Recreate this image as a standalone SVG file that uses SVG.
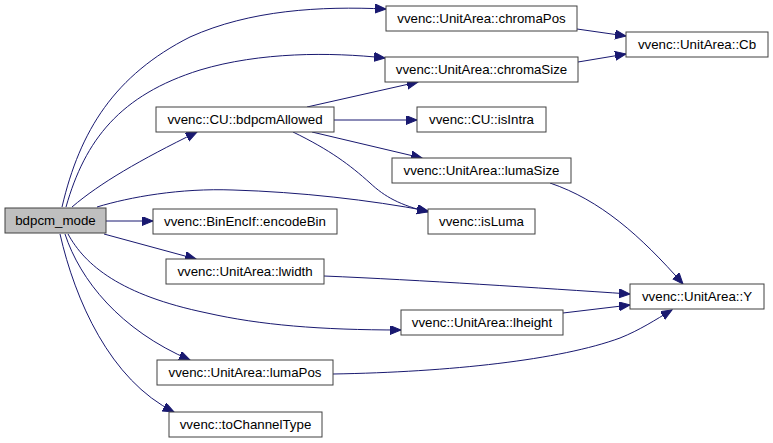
<svg xmlns="http://www.w3.org/2000/svg" width="773" height="443" viewBox="0 0 773 443">
<style>
.n rect{fill:#ffffff;stroke:#404040;stroke-width:1}
.n text{font-family:"Liberation Sans",Arial,sans-serif;font-size:13.3px;fill:#000000;text-anchor:middle}
.e path{fill:none;stroke:#191970;stroke-width:1;marker-end:url(#ah)}
</style>
<defs>
<marker id="ah" markerUnits="userSpaceOnUse" markerWidth="12" markerHeight="10" refX="11" refY="4.5" orient="auto">
<path d="M0,0 L11,4.5 L0,9 z" fill="#191970" stroke="#191970" stroke-width="1"/>
</marker>
</defs>
<rect width="773" height="443" fill="#ffffff"/>
<g id="connectors" class="e">
<path d="M62,207 C80,130 115,75 190,37 C250,10 320,6 386,9"/>
<path d="M66,207 C85,140 120,95 200,70 C260,52 330,52 385,58"/>
<path d="M72,207 C100,183 140,160 197,132"/>
<path d="M97,207 C130,197 180,188 233,190 C300,192 370,200 428,211"/>
<path d="M293,132 C330,150 350,165 370,183 C385,197 400,205 428,212"/>
<path d="M307,107 L418,82"/>
<path d="M334,120 L417,120"/>
<path d="M312,132 L422,158"/>
<path d="M106,221 L153,221"/>
<path d="M104,234 L196,259"/>
<path d="M68,234 C85,265 120,295 207,313 C260,325 320,330 401,330"/>
<path d="M65,234 C80,280 120,330 190,360"/>
<path d="M60,234 C75,300 110,380 174,412"/>
<path d="M324,276 C420,280 540,288 630,294"/>
<path d="M563,313 L630,305"/>
<path d="M333,374 C450,372 560,360 620,338 C640,330 655,320 672,310"/>
<path d="M550,183 C600,200 640,235 683,284"/>
<path d="M577,29 L626,36"/>
<path d="M578,62 L626,54"/>
</g>
<g id="bdpcm_mode" class="n"><rect x="5" y="208" width="101" height="25" style="fill:#bfbfbf"/><text x="55.5" y="225">bdpcm_mode</text></g>
<g id="chromaPos" class="n"><rect x="386" y="6" width="191" height="25"/><text x="481.5" y="23">vvenc::UnitArea::chromaPos</text></g>
<g id="chromaSize" class="n"><rect x="385" y="57" width="193" height="25"/><text x="481.5" y="74">vvenc::UnitArea::chromaSize</text></g>
<g id="Cb" class="n"><rect x="626" y="32" width="142" height="25"/><text x="697" y="49">vvenc::UnitArea::Cb</text></g>
<g id="bdpcmAllowed" class="n"><rect x="156" y="107" width="178" height="25"/><text x="245" y="124">vvenc::CU::bdpcmAllowed</text></g>
<g id="isIntra" class="n"><rect x="417" y="107" width="129" height="25"/><text x="481.5" y="124">vvenc::CU::isIntra</text></g>
<g id="lumaSize" class="n"><rect x="392" y="158" width="179" height="25"/><text x="481.5" y="175">vvenc::UnitArea::lumaSize</text></g>
<g id="isLuma" class="n"><rect x="428" y="209" width="107" height="25"/><text x="481.5" y="226">vvenc::isLuma</text></g>
<g id="encodeBin" class="n"><rect x="153" y="209" width="184" height="25"/><text x="245" y="226">vvenc::BinEncIf::encodeBin</text></g>
<g id="lwidth" class="n"><rect x="166" y="259" width="158" height="25"/><text x="245" y="276">vvenc::UnitArea::lwidth</text></g>
<g id="Y" class="n"><rect x="630" y="284" width="134" height="25"/><text x="697" y="301">vvenc::UnitArea::Y</text></g>
<g id="lheight" class="n"><rect x="401" y="310" width="162" height="25"/><text x="482" y="327">vvenc::UnitArea::lheight</text></g>
<g id="lumaPos" class="n"><rect x="157" y="360" width="176" height="25"/><text x="245" y="377">vvenc::UnitArea::lumaPos</text></g>
<g id="toChannelType" class="n"><rect x="169" y="412" width="153" height="25"/><text x="245.5" y="429">vvenc::toChannelType</text></g>
</svg>
